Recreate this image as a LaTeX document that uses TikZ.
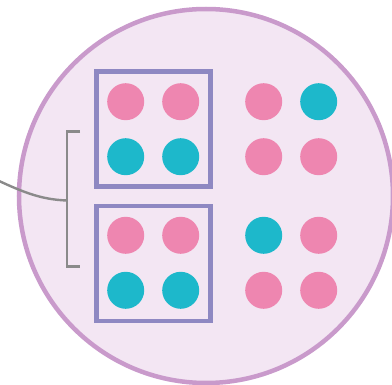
\documentclass[tikz,border=0pt]{standalone}
\definecolor{cellfill}{HTML}{F3E6F3}
\definecolor{cellline}{HTML}{C99ACB}
\definecolor{pinkdot}{HTML}{EE86B0}
\definecolor{tealdot}{HTML}{1DB8CB}
\definecolor{boxline}{HTML}{8E88C2}
\definecolor{bracketgray}{HTML}{8A8A8A}
\begin{document}
\begin{tikzpicture}[x=1pt,y=-1pt,
  cell/.style={circle,draw=cellline,fill=cellfill,line width=4.5pt,minimum size=374pt,inner sep=0pt},
  dot/.style={circle,minimum size=37pt,inner sep=0pt,draw=none},
  pk/.style={dot,fill=pinkdot},
  tl/.style={dot,fill=tealdot},
  groupbox/.style={rectangle,draw=boxline,line width=4.5pt,minimum width=114pt,minimum height=115pt,inner sep=0pt},
  brack/.style={draw=bracketgray,line width=2.4pt}]
\useasboundingbox (0,0) rectangle (392,385);
\clip (0,0) rectangle (392,385);
\node[cell] (cell) at (206,196) {};
% boxes
\node[groupbox] (boxA) at (153.5,129) {};
\node[groupbox] (boxB) at (153.5,263.5) {};
% dots row 1
\node[pk] (d11) at (125.7,101.7) {};
\node[pk] (d12) at (180.7,101.7) {};
\node[pk] (d13) at (263.7,101.7) {};
\node[tl] (d14) at (318.7,101.7) {};
% row 2
\node[tl] (d21) at (125.7,156.7) {};
\node[tl] (d22) at (180.7,156.7) {};
\node[pk] (d23) at (263.7,156.7) {};
\node[pk] (d24) at (318.7,156.7) {};
% row 3
\node[pk] (d31) at (125.7,235.3) {};
\node[pk] (d32) at (180.7,235.3) {};
\node[tl] (d33) at (263.7,235.3) {};
\node[pk] (d34) at (318.7,235.3) {};
% row 4
\node[tl] (d41) at (125.7,290.3) {};
\node[tl] (d42) at (180.7,290.3) {};
\node[pk] (d43) at (263.7,290.3) {};
\node[pk] (d44) at (318.7,290.3) {};
% bracket
\coordinate (btop) at (80,131.7);
\coordinate (bbot) at (80,266.7);
\coordinate (bmid) at (66.7,200.5);
\coordinate (lead) at (-2,180.5);
\draw[brack,line join=miter] (btop) -- (66.7,131.7) -- (66.7,266.7) -- (bbot);
\draw[brack] (lead) .. controls (25,193) and (42,199.5) .. (bmid);
\end{tikzpicture}
\end{document}
